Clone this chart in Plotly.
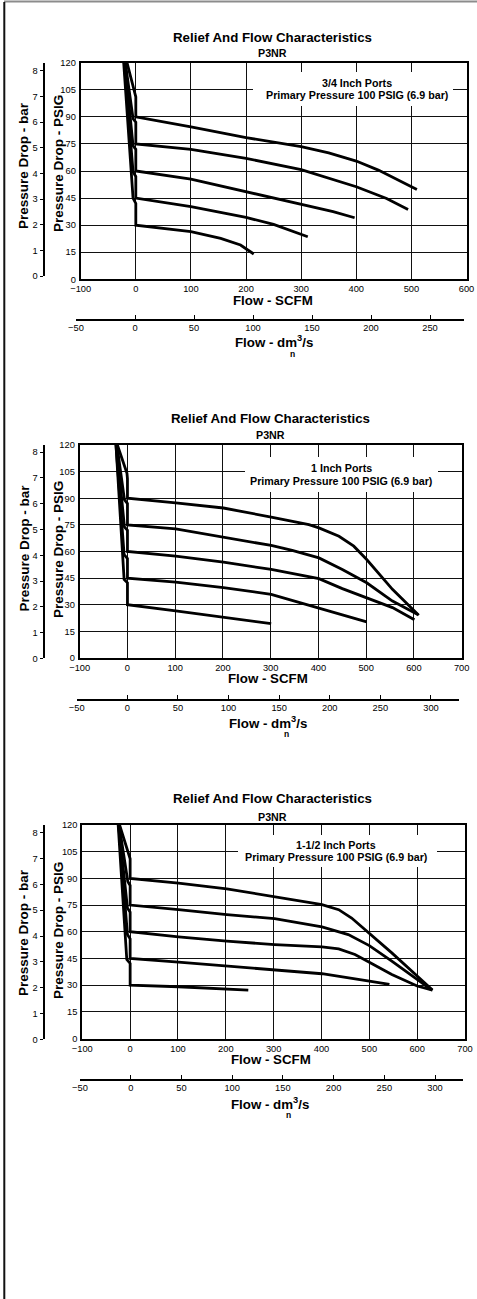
import plotly.graph_objects as go

W, H = 477, 1299
FONT = "Liberation Sans, Arial, Helvetica, sans-serif"

SET_PSIG = [90, 75, 60, 45, 30]
PORT_SIZES = ["3/4 Inch Ports", "1 Inch Ports", "1-1/2 Inch Ports"]
TITLE = "Relief And Flow Characteristics"
MODEL = "P3NR"
SUPPLY_NOTE = "Primary Pressure 100 PSIG (6.9 bar)"
SCFM_RANGES = [[-100, 600], [-100, 700], [-100, 700]]
PSIG_TICKS = [0, 15, 30, 45, 60, 75, 90, 105, 120]
BAR_TICKS = [0, 1, 2, 3, 4, 5, 6, 7, 8]
DM3_TICKS = [-50, 0, 50, 100, 150, 200, 250, 300]

# 3/4 inch ports: flow (SCFM) and pressure drop (PSIG) per set pressure
flow_34 = {
    90: [-16, 0, 0, 100, 200, 300, 350, 400, 440, 510],
    75: [-19, -5, 0, 0, 100, 200, 300, 322, 400, 455, 494],
    60: [-20, -5, 0, 0, 100, 200, 300, 358, 397],
    45: [-21, -5, 0, 0, 100, 200, 250, 280, 312],
    30: [-22, -5, 0, 0, 100, 154, 190, 214],
}
psig_34 = {
    90: [120, 101, 90, 84.5, 78.5, 73.5, 70, 65.5, 60.5, 49.8],
    75: [120, 89, 87, 75, 72, 67, 60.8, 58.7, 51.3, 44.8, 38.7],
    60: [120, 74, 72, 60, 55.5, 48.5, 41.7, 37.5, 34.1],
    45: [120, 59.5, 57, 45, 40.2, 34.3, 30.4, 27.3, 23.6],
    30: [120, 45, 42, 30, 26.4, 22.7, 19, 14],
}

# 1 inch ports
flow_1 = {
    90: [-21, -1, 0, 0, 101, 201, 301, 380, 401, 443, 474, 501, 555, 610],
    75: [-22, -6.3, 0, 0, 101, 201, 301, 345, 401, 450, 501, 555, 608],
    60: [-23, -6.3, 0, 0, 101, 201, 301, 401, 450, 501, 555, 601],
    45: [-24, -7, 0, 0, 101, 201, 301, 345, 401, 501],
    30: [-24, -7, 0, 0, 101, 201, 301],
}
psig_1 = {
    90: [120, 104, 101, 90, 87.4, 84.5, 79.4, 75.1, 73.3, 68.6, 63, 55.5, 38.7, 24.1],
    75: [120, 89.2, 87, 75, 72.7, 68.2, 63.4, 60.6, 56.4, 49.9, 42.4, 32.1, 24.5],
    60: [120, 73.8, 72, 60, 57.4, 54, 49.9, 44.7, 39.1, 34, 28.4, 21.6],
    45: [120, 58.3, 56, 45, 42.8, 39.6, 35.9, 32.5, 28.4, 20.4],
    30: [120, 44.3, 42.4, 30, 26.5, 22.8, 19.4],
}

# 1-1/2 inch ports
flow_112 = {
    90: [-22, -1, 0, 0, 101, 202, 302, 373, 401, 436, 463, 500, 547, 600, 632],
    75: [-23, -4.9, 0, 0, 101, 202, 302, 401, 456, 500, 547, 600, 631],
    60: [-24, -5.6, 0, 0, 101, 202, 302, 401, 436, 470, 500, 547, 600, 632],
    45: [-24, -5.6, 0, 0, 101, 202, 302, 401, 500, 542],
    30: [-25, -7, 0, 0, 101, 247],
}
psig_112 = {
    90: [120, 103, 101, 90, 87.3, 84.1, 79.9, 76.5, 75.2, 72.4, 67.7, 59.3, 48.1, 35.1, 27.2],
    75: [120, 88.2, 86, 75, 72.4, 69.6, 67.4, 62.7, 58.4, 52.2, 43.5, 33.2, 27.2],
    60: [120, 73.3, 71, 60, 57.1, 54.7, 52.8, 51.5, 50.4, 47.2, 42.9, 36, 29.5, 27.2],
    45: [120, 58.4, 56, 45, 42.9, 40.7, 38.8, 36.4, 32.3, 30.4],
    30: [120, 44.4, 42.2, 30, 29.1, 27.2],
}

FLOWS = [flow_34, flow_1, flow_112]
PSIGS = [psig_34, psig_1, psig_112]

# page geometry of each panel, in pixels
PANELS = [
    dict(px=(80.7, 466.5), py=(62.7, 279.3), bar_y=(63, 276), bar_top=8.31,
         dm_y=320.3, dm_x=(76, 464), dm_top=278.8, cx=272, title_y=38, sub_y=53,
         note_x=357, note_y=(82.5, 94.5), box=(253, 453, 72, 106),
         bar_t=(23, 166), psig_t=(58, 164), scfm_t=(273, 300.5), dm_t=(274, 341.7)),
    dict(px=(79.7, 461.7), py=(445, 658), bar_y=(445, 658.3), bar_top=8.28,
         dm_y=700, dm_x=(76.7, 459.3), dm_top=328, cx=270.5, title_y=419, sub_y=435,
         note_x=341.7, note_y=(468.3, 481), box=(245, 438, 457, 492),
         bar_t=(23.5, 548), psig_t=(58, 550), scfm_t=(268, 678.5), dm_t=(268, 722)),
    dict(px=(82.3, 465), py=(825, 1038.5), bar_y=(825, 1039.3), bar_top=8.3,
         dm_y=1080, dm_x=(80, 462.7), dm_top=327.3, cx=272, title_y=798, sub_y=816.7,
         note_x=336, note_y=(845, 857.3), box=(238, 437, 835, 867),
         bar_t=(23.5, 932.5), psig_t=(58, 931), scfm_t=(270.7, 1059.5), dm_t=(270, 1103)),
]


def fx(px):
    return px / W


def fy(py):
    return 1 - py / H


fig = go.Figure()
layout = {}
annotations = []
shapes = []
tick_font = dict(family=FONT, size=9.3, color="black")


def note(text, x, y, size, bold=True, angle=0):
    annotations.append(dict(
        text=f"<b>{text}</b>" if bold else text, x=fx(x), y=fy(y),
        xref="paper", yref="paper", xanchor="center", yanchor="middle",
        showarrow=False, textangle=angle,
        font=dict(family=FONT, size=size, color="black")))


for k, g in enumerate(PANELS):
    n_main, n_aux = 2 * k + 1, 2 * k + 2
    xa = "xaxis" if k == 0 else f"xaxis{n_main}"
    ya = "yaxis" if k == 0 else f"yaxis{n_main}"
    xref = "x" if k == 0 else f"x{n_main}"
    yref = "y" if k == 0 else f"y{n_main}"
    xd, yb = f"xaxis{n_aux}", f"yaxis{n_aux}"

    for p in SET_PSIG:
        fig.add_trace(go.Scatter(
            x=FLOWS[k][p], y=PSIGS[k][p], mode="lines", xaxis=xref, yaxis=yref,
            line=dict(color="black", width=2.8), showlegend=False,
            hoverinfo="skip"))

    # empty trace that ties the secondary bar and dm3/s scales together
    fig.add_trace(go.Scatter(
        x=DM3_TICKS[:1], y=BAR_TICKS[:1], mode="none", xaxis=f"x{n_aux}",
        yaxis=f"y{n_aux}", showlegend=False, hoverinfo="skip"))

    layout[xa] = dict(
        domain=[fx(g["px"][0]), fx(g["px"][1])], range=SCFM_RANGES[k],
        anchor=yref, tick0=0, dtick=100, ticks="", showgrid=True,
        gridcolor="#111", gridwidth=1, zeroline=False, showline=True,
        linecolor="black", linewidth=2, mirror=True, tickfont=tick_font,
        ticklabelstandoff=0, automargin=False)
    layout[ya] = dict(
        domain=[fy(g["py"][1]), fy(g["py"][0])], range=[0, 120],
        anchor=xref, tickvals=PSIG_TICKS, ticks="", showgrid=True,
        gridcolor="#111", gridwidth=1, zeroline=False, showline=True,
        linecolor="black", linewidth=2, mirror=True, tickfont=tick_font,
        ticklabelstandoff=1, automargin=False)
    # bar scale on the left
    layout[yb] = dict(
        domain=[fy(g["bar_y"][1]), fy(g["bar_y"][0])], range=[0, g["bar_top"]],
        anchor="free", position=fx(43.5), side="left", tickvals=BAR_TICKS,
        ticks="outside", ticklen=3, tickwidth=1.2, tickcolor="black",
        showgrid=False, zeroline=False, showline=True, linecolor="black",
        linewidth=2, tickfont=tick_font, ticklabelstandoff=0, automargin=False)
    # dm3/s scale below
    layout[xd] = dict(
        domain=[fx(g["dm_x"][0]), fx(g["dm_x"][1])], range=[-50, g["dm_top"]],
        anchor="free", position=fy(g["dm_y"]), side="bottom", tickvals=DM3_TICKS,
        ticks="inside", ticklen=4, tickwidth=1.2, tickcolor="black",
        showgrid=False, zeroline=False, showline=True, linecolor="black",
        linewidth=2, tickfont=tick_font, ticklabelstandoff=-1, automargin=False)

    # white panel behind the port note
    x0, x1, y0, y1 = g["box"]
    shapes.append(dict(type="rect", xref="paper", yref="paper",
                       x0=fx(x0), x1=fx(x1), y0=fy(y1), y1=fy(y0),
                       fillcolor="white", line=dict(width=0), layer="above"))

    note(TITLE, g["cx"], g["title_y"], 13.3)
    note(MODEL, g["cx"], g["sub_y"], 10.7)
    note(PORT_SIZES[k], g["note_x"], g["note_y"][0], 10.7)
    note(SUPPLY_NOTE, g["note_x"], g["note_y"][1], 10.7)
    note("Pressure Drop - bar", *g["bar_t"], 13.5, angle=-90)
    note("Pressure Drop - PSIG", *g["psig_t"], 13.5, angle=-90)
    note("Flow - SCFM", *g["scfm_t"], 13.3)
    note("Flow - dm<sup>3</sup>/s", *g["dm_t"], 13.3)
    note("n", g["dm_t"][0] + 18, g["dm_t"][1] + 12, 8.5)

# page frame
shapes.append(dict(type="line", xref="paper", yref="paper", x0=fx(4), x1=1,
                   y0=fy(1.5), y1=fy(1.5), line=dict(color="#8c8c8c", width=1.8)))
shapes.append(dict(type="line", xref="paper", yref="paper", x0=fx(4.3), x1=fx(4.3),
                   y0=fy(2), y1=0, line=dict(color="#111", width=2)))

fig.update_layout(
    width=W, height=H, margin=dict(l=0, r=0, t=0, b=0, autoexpand=False),
    paper_bgcolor="white", plot_bgcolor="rgba(0,0,0,0)", showlegend=False,
    annotations=annotations, shapes=shapes, **layout)

fig.write_html("out.html", post_script="document.body.style.margin='0';")
